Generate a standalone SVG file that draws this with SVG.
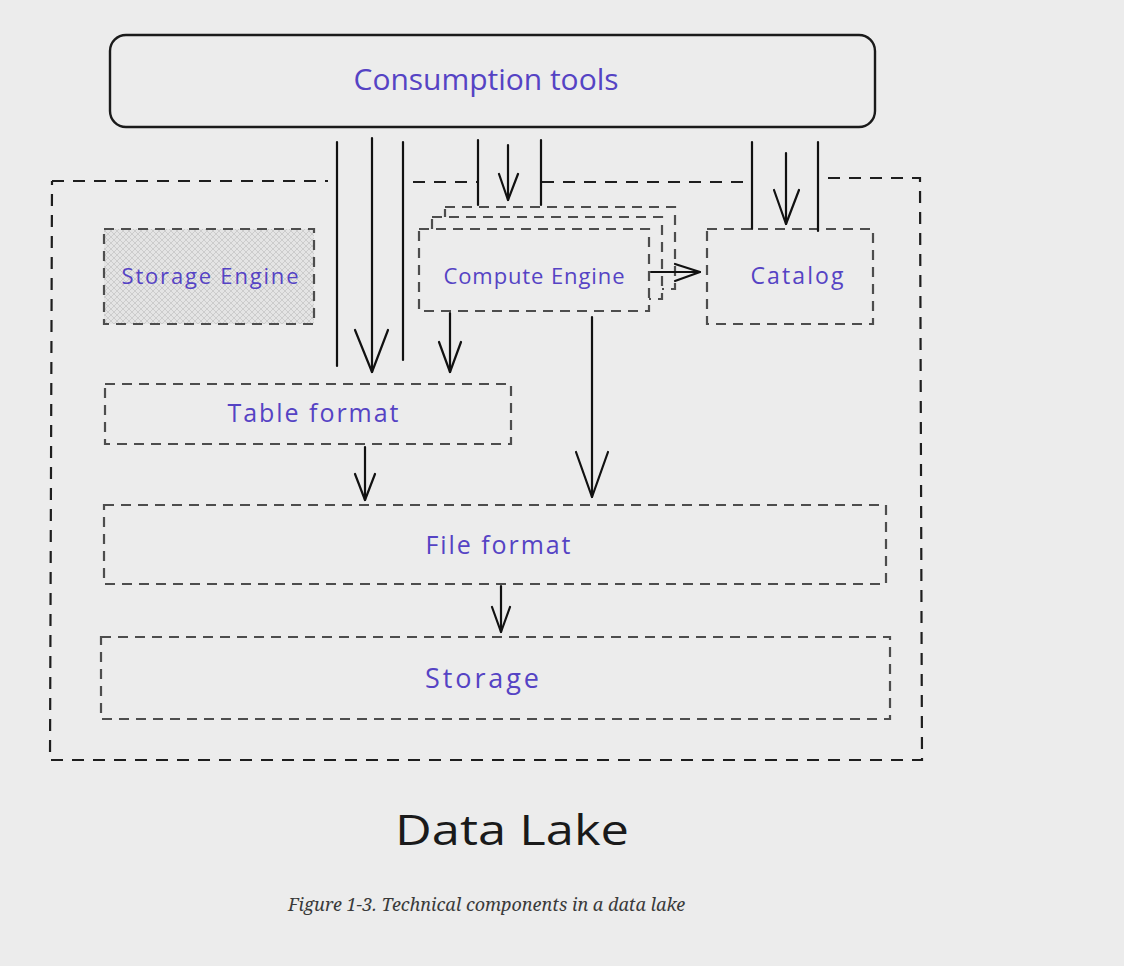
<svg xmlns="http://www.w3.org/2000/svg" width="1124" height="966" viewBox="0 0 1124 966">
<defs>
<pattern id="hatch" width="6" height="6" patternUnits="userSpaceOnUse">
<rect width="6" height="6" fill="#e4e4e4"/>
<path d="M0,0 L6,6 M6,0 L0,6" stroke="#c9c9c9" stroke-width="0.9"/>
</pattern>
</defs>
<style>
.lbl{font-family:"Open Sans","Liberation Sans",sans-serif;fill:#5543c4;text-anchor:middle;dominant-baseline:central}
.box{fill:none;stroke:#4d4d4d;stroke-width:2.2;stroke-dasharray:10 7}
.outer{fill:none;stroke:#1e1e1e;stroke-width:2.2;stroke-dasharray:12 9}
.ln{stroke:#111;stroke-width:2.2;fill:none;stroke-linecap:round}
.hd{stroke:#111;stroke-width:2.2;fill:none;stroke-linecap:round;stroke-linejoin:round}
</style>
<rect width="1124" height="966" fill="#ececec"/>

<g id="data-lake">
<path class="outer" d="M52,181 L328,181 M413,182 L478,182 M542,182 L745,182 M828,178 L920,178 L922,760 L50,760 L52,181"/>
<text x="512" y="828" font-family="Open Sans, Liberation Sans, sans-serif" font-size="42" font-weight="500" fill="#1a1a1a" text-anchor="middle" dominant-baseline="central" textLength="234" lengthAdjust="spacingAndGlyphs">Data Lake</text>
</g>

<g id="consumption-tools">
<rect x="110" y="35" width="765" height="92" rx="16" fill="none" stroke="#1a1a1a" stroke-width="2.4"/>
<text class="lbl" x="486" y="78" font-size="30" textLength="265">Consumption tools</text>
</g>

<g id="storage-engine">
<rect x="104" y="229" width="210" height="95" fill="url(#hatch)"/>
<rect class="box" x="104" y="229" width="210" height="95"/>
<text class="lbl" x="210" y="275" font-size="22" textLength="177">Storage Engine</text>
</g>

<g id="compute-engine">
<rect class="box" x="445" y="207" width="230" height="82" style="fill:#ececec"/>
<rect class="box" x="432" y="217" width="230" height="82" style="fill:#ececec"/>
<rect class="box" x="419" y="229" width="230" height="82" style="fill:#ececec"/>
<text class="lbl" x="534" y="275" font-size="22" textLength="181">Compute Engine</text>
</g>

<g id="catalog">
<rect class="box" x="707" y="229" width="166" height="95"/>
<text class="lbl" x="797" y="275" font-size="23" textLength="93">Catalog</text>
</g>

<g id="table-format">
<rect class="box" x="105" y="384" width="406" height="60"/>
<text class="lbl" x="313" y="412" font-size="25" textLength="171">Table format</text>
</g>

<g id="file-format">
<rect class="box" x="104" y="505" width="782" height="79"/>
<text class="lbl" x="498" y="544" font-size="25" textLength="145">File format</text>
</g>

<g id="storage">
<rect class="box" x="101" y="637" width="789" height="82"/>
<text class="lbl" x="482" y="677" font-size="27" textLength="114">Storage</text>
</g>

<g id="connectors">
<path class="ln" d="M337,142 L337,366"/>
<path class="ln" d="M372,138 L372,372"/>
<path class="hd" d="M355,330 L372,372 L388,330"/>
<path class="ln" d="M403,142 L403,360"/>
<path class="ln" d="M478,140 L478,205"/>
<path class="ln" d="M508,145 L508,200"/>
<path class="hd" d="M499,174 L508,200 L518,174"/>
<path class="ln" d="M541,140 L541,205"/>
<path class="ln" d="M752,142 L752,229"/>
<path class="ln" d="M786,153 L786,224"/>
<path class="hd" d="M774,190 L786,224 L799,190"/>
<path class="ln" d="M818,142 L818,231"/>
<path class="ln" d="M651,272 L700,272"/>
<path class="hd" d="M675,264 L700,272 L675,281"/>
<path class="ln" d="M450,313 L450,372"/>
<path class="hd" d="M439,342 L450,372 L461,342"/>
<path class="ln" d="M592,317 L592,497"/>
<path class="hd" d="M576,452 L592,497 L608,452"/>
<path class="ln" d="M365,447 L365,500"/>
<path class="hd" d="M355,474 L365,500 L375,474"/>
<path class="ln" d="M501,586 L501,632"/>
<path class="hd" d="M492,607 L501,632 L510,607"/>
</g>

<text x="288" y="911" font-family="Noto Serif, DejaVu Serif, Liberation Serif, serif" font-style="italic" font-size="18" fill="#3a3a3a">Figure 1-3. Technical components in a data lake</text>
</svg>
